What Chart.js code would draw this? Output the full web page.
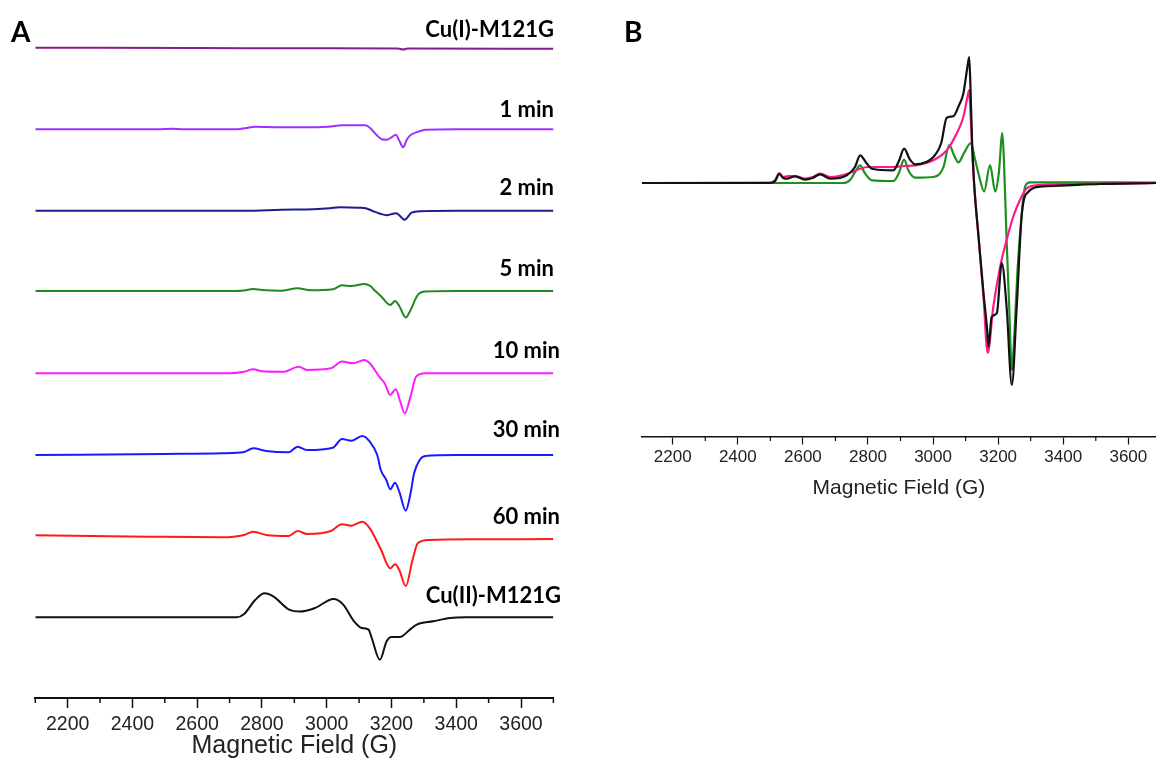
<!DOCTYPE html>
<html>
<head>
<meta charset="utf-8">
<script src="https://cdn.jsdelivr.net/npm/chart.js@4.4.1/dist/chart.umd.min.js"></script>
<style>
  html, body { margin: 0; padding: 0; background: #fff; overflow: hidden; }
  body { width: 1156px; height: 763px; position: relative; }
  #wrapA { position: absolute; left: 0; top: 0; width: 580px; height: 763px; }
  #wrapB { position: absolute; left: 620px; top: 0; width: 536px; height: 520px; }
  .panel { position: absolute; font-family: Lato, "Open Sans", sans-serif; font-weight: 700; font-size: 28px; line-height: 28px; color: #000; }
  .lbl { position: absolute; font-family: Lato, "Open Sans", sans-serif; font-weight: 700; font-size: 22px; line-height: 22px; white-space: nowrap; color: #000; transform: translate(-100%, -50%); }
</style>
</head>
<body>
<div id="wrapA"><canvas id="chartA" width="580" height="763"></canvas></div>
<div id="wrapB"><canvas id="chartB" width="536" height="520"></canvas></div>
<div class="panel" style="left:11px; top:17px;">A</div>
<div class="panel" style="left:624px; top:17px;">B</div>
<div id="labels"></div>

<script>
// ---- data: [field (G), signal] ----
const majorTicks = [2200, 2400, 2600, 2800, 3000, 3200, 3400, 3600];
const minorTicks = [2100, 2300, 2500, 2700, 2900, 3100, 3300, 3500, 3700];

const traceNames = ['Cu(I)-M121G', '1 min', '2 min', '5 min', '10 min', '30 min', '60 min', 'Cu(II)-M121G'];

const cuI = [[2100, 0.3], [2600, 0], [3000, -0.3], [3220, -0.5], [3236, -1.5], [3250, -0.5], [3700, -0.8]];

const min1 = [[2100, 0], [2480, 0], [2520, 0.5], [2560, 0], [2720, 0], [2745, 1], [2780, 2.5], [2850, 2],
  [2960, 2], [3020, 3], [3045, 4], [3120, 4], [3135, 1], [3155, -6], [3170, -10], [3185, -10.5], [3200, -8],
  [3213, -5.5], [3225, -12], [3236, -18], [3248, -10], [3260, -5.5], [3282, -2.5], [3305, -0.5], [3400, 0], [3700, 0]];

const min2 = [[2100, 0], [2750, 0], [2860, 1], [2960, 1.5], [3010, 2.5], [3040, 3.5], [3100, 3], [3120, 2.5],
  [3140, 0], [3165, -3], [3185, -4.5], [3205, -3], [3215, -2.5], [3240, -9], [3262, -2], [3290, -0.5], [3400, 0], [3700, 0]];

const min5 = [[2100, 0], [2700, 0], [2745, 0.5], [2773, 2], [2800, 1], [2859, 0.3], [2910, 2.7], [2950, 0.7],
  [3019, 1.7], [3047, 5.7], [3076, 5], [3116, 7], [3133, 5.3], [3150, 0], [3167, -5], [3196, -14], [3211, -10],
  [3224, -15], [3244, -26.5], [3259, -19], [3281, -4], [3304, -0.5], [3400, 0], [3700, 0]];

const min10 = [[2100, 0], [2700, 0], [2745, 1.5], [2773, 4], [2800, 2], [2865, 1.5], [2914, 6.5], [2939, 3.3],
  [3013, 5], [3047, 11.7], [3082, 10], [3116, 13.3], [3133, 10], [3162, -3.3], [3179, -10], [3196, -21.7],
  [3213, -16], [3227, -28], [3241, -40], [3259, -23], [3276, -3.3], [3304, 0], [3700, 0]];

const min30 = [[2100, 0], [2500, 1], [2676, 1.7], [2745, 3], [2773, 6.7], [2813, 4], [2882, 2.7], [2910, 8.3],
  [2939, 5], [3019, 7.3], [3047, 16], [3076, 14.3], [3110, 19], [3133, 13.3], [3156, 0], [3167, -15], [3184, -25],
  [3196, -34.3], [3211, -27.7], [3224, -36.7], [3244, -55.7], [3259, -38], [3270, -18], [3287, -5], [3304, -1],
  [3400, 0], [3700, 0]];

const min60 = [[2100, 1.7], [2448, 0.3], [2676, -0.3], [2745, 2], [2773, 5.3], [2813, 2], [2882, 1], [2910, 6],
  [2939, 3], [3013, 6], [3047, 12.7], [3076, 11.3], [3110, 15.3], [3133, 8.7], [3167, -12.3], [3196, -31.3],
  [3211, -27.3], [3224, -33], [3244, -49], [3265, -23], [3281, -6.3], [3316, -3], [3476, -2.3], [3700, -2]];

const cuII = [[2100, 0], [2722, 0], [2745, 3.3], [2779, 17.3], [2808, 24], [2836, 20.7], [2882, 8], [2916, 5.7],
  [2962, 9], [3021, 18.3], [3051, 12.7], [3082, -3], [3108, -10.7], [3129, -12.3], [3139, -20.7], [3164, -42.5],
  [3185, -24], [3200, -19.7], [3226, -19.7], [3257, -12.3], [3278, -7.3], [3329, -4], [3381, -0.7], [3430, 0], [3700, 0]];

// panel B: experiment, simulation, second component
const expB = [[2105, 0], [2500, 0], [2515, 2], [2527, 9], [2540, 5], [2550, 4.3], [2576, 6.7], [2607, 3.3],
  [2630, 5], [2653, 8.7], [2684, 4.3], [2735, 7.7], [2760, 16], [2776, 27.7], [2795, 20], [2812, 14.3],
  [2878, 12.7], [2895, 22], [2911, 34.3], [2928, 24], [2945, 18.7], [3001, 26], [3025, 40], [3042, 65.3],
  [3062, 66.7], [3080, 78], [3093, 89.3], [3105, 115], [3111, 126], [3115, 95], [3120, 40], [3126, 0],
  [3140, -55], [3155, -110], [3167, -150], [3170, -164], [3180, -134], [3196, -130], [3211, -80], [3226, -124],
  [3242, -202], [3257, -124], [3273, -30], [3293, -8.7], [3329, -3.7], [3390, -2.7], [3513, -1], [3685, 0]];

const simB = [[2105, 0], [2500, 0.5], [2515, 3], [2527, 10], [2540, 6], [2555, 7], [2576, 7], [2607, 4.5],
  [2630, 6], [2653, 9.5], [2684, 6], [2735, 9], [2776, 14.3], [2800, 16], [2878, 16], [2911, 17], [2945, 17.7],
  [3001, 22.7], [3042, 32.7], [3072, 49.3], [3093, 66], [3105, 85], [3111, 93], [3115, 70], [3120, 35],
  [3126, 0], [3140, -55], [3155, -115], [3168, -170], [3185, -124], [3206, -84], [3226, -57], [3247, -33],
  [3267, -17], [3288, -5.3], [3329, -2], [3420, -1], [3685, 0]];

const compB = [[2105, 0], [2724, 0], [2745, 3], [2762, 12], [2776, 17.7], [2790, 10], [2812, 2.7], [2878, 2],
  [2895, 10], [2911, 23.3], [2925, 12], [2945, 5.3], [3001, 6], [3020, 9], [3032, 16], [3050, 38], [3064, 28],
  [3078, 20.7], [3095, 30], [3116, 40], [3128, 25], [3139, 10], [3157, -8.5], [3175, 18], [3191, -8.5],
  [3202, 10], [3213, 50], [3218, 20], [3226, -57], [3234, -125], [3242, -187], [3250, -150], [3259, -90],
  [3270, -40], [3283, -3.3], [3298, 0.7], [3685, 0.5]];

// ---- layout / style ----
const seriesA = [cuI, min1, min2, min5, min10, min30, min60, cuII];
const offsetsA = [650, 568.7, 487.3, 407, 324.7, 243, 161, 80.7];
const colorsA = ['#8a1a8a', '#9b30ff', '#1c1c8c', '#1f8a1f', '#ff1aff', '#1a1aff', '#ff1a1a', '#111111'];
const labelPos = [[554, 29], [554, 109], [554, 187], [554, 268], [560, 350], [560, 429], [560, 516], [561, 595]];

const seriesB = [expB, simB, compB];
const colorsB = ['#111111', '#ff1a8c', '#1f8f1f'];
const offsetB = 254;

const labelBox = document.getElementById('labels');
traceNames.forEach((name, i) => {
  const d = document.createElement('div');
  d.className = 'lbl';
  d.textContent = name;
  d.style.left = labelPos[i][0] + 'px';
  d.style.top = labelPos[i][1] + 'px';
  labelBox.appendChild(d);
});

// minor ticks below the axis line
const minorTickPlugin = {
  id: 'minorTicks',
  afterDraw(chart, args, opts) {
    const s = chart.scales.x;
    const ctx = chart.ctx;
    ctx.save();
    ctx.strokeStyle = opts.color;
    ctx.lineWidth = opts.width;
    opts.values.forEach(v => {
      if (v < s.min || v > s.max) return;
      const x = s.getPixelForValue(v);
      ctx.beginPath();
      ctx.moveTo(x, s.top);
      ctx.lineTo(x, s.top + opts.length);
      ctx.stroke();
    });
    ctx.restore();
  }
};

function makeData(series, offsets, colors, width) {
  return {
    datasets: series.map((pts, i) => ({
      data: pts.map(p => ({ x: p[0], y: p[1] + (Array.isArray(offsets) ? offsets[i] : offsets) })),
      borderColor: colors[i],
      borderWidth: width,
      pointRadius: 0,
      fill: false,
      cubicInterpolationMode: 'monotone'
    }))
  };
}

function makeOptions(o) {
  return {
    responsive: false,
    animation: false,
    layout: { padding: { left: o.padLeft, right: o.padRight, top: 0, bottom: 0 } },
    plugins: {
      legend: { display: false },
      tooltip: { enabled: false },
      minorTicks: { values: minorTicks, length: o.minorLen, width: o.tickWidth, color: '#111' }
    },
    scales: {
      x: {
        type: 'linear',
        min: o.min,
        max: o.max,
        afterBuildTicks: s => { s.ticks = majorTicks.map(v => ({ value: v })); },
        afterFit: s => { s.height = o.axisHeight; },
        border: { display: true, color: '#111', width: o.axisWidth },
        grid: { display: true, drawOnChartArea: false, drawTicks: true, tickLength: o.majorLen, tickWidth: o.tickWidth, tickColor: '#111' },
        ticks: { color: '#222', font: { family: '"Liberation Sans", Arial, sans-serif', size: o.tickSize }, padding: o.tickPad,
          maxRotation: 0, autoSkip: false, callback: v => String(v) },
        title: { display: true, text: 'Magnetic Field (G)', color: '#222', font: { family: '"Liberation Sans", Arial, sans-serif', size: o.titleSize }, padding: { top: 0, bottom: o.titlePad } }
      },
      y: { display: false, min: 0, max: o.yMax }
    }
  };
}

new Chart(document.getElementById('chartA'), {
  type: 'line',
  data: makeData(seriesA, offsetsA, colorsA, 2),
  options: makeOptions({ padLeft: 35.3, padRight: 26.6, min: 2100, max: 3700, axisHeight: 65, axisWidth: 2,
    majorLen: 10, minorLen: 5, tickWidth: 1.5, tickSize: 19.5, tickPad: 5, titleSize: 25, titlePad: 2, yMax: 698 }),
  plugins: [minorTickPlugin]
});

new Chart(document.getElementById('chartB'), {
  type: 'line',
  data: makeData(seriesB, offsetB, colorsB, 2.2),
  options: makeOptions({ padLeft: 21.8, padRight: 0, min: 2105, max: 3685, axisHeight: 83, axisWidth: 1.5,
    majorLen: 7.5, minorLen: 4, tickWidth: 1.2, tickSize: 17, tickPad: 3, titleSize: 21, titlePad: 19, yMax: 437 }),
  plugins: [minorTickPlugin]
});
</script>
</body>
</html>
